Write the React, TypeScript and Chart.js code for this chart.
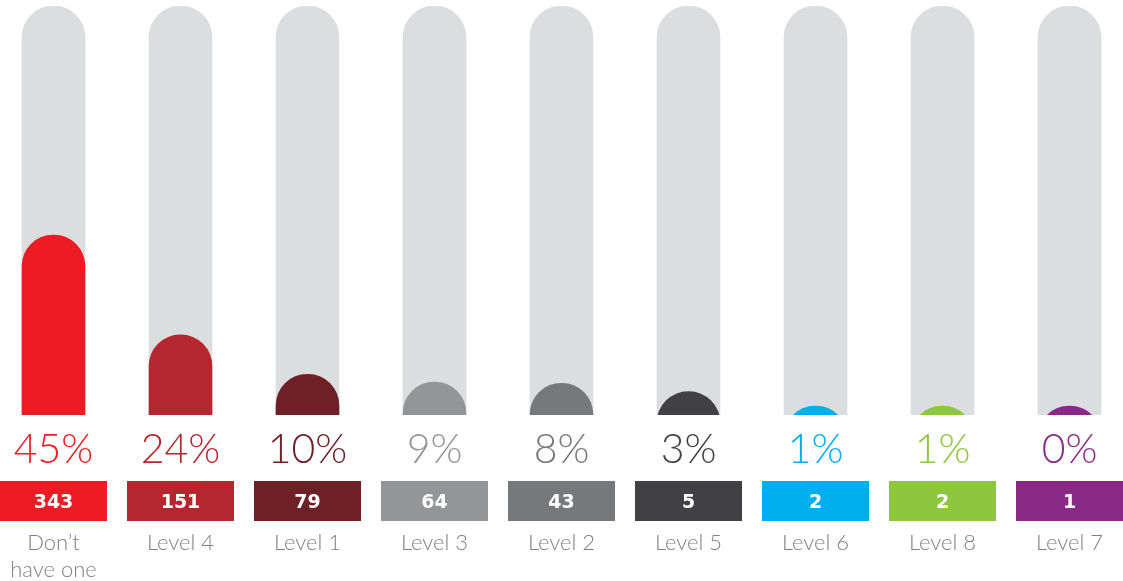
import React, { useEffect, useRef } from "react";
import { Chart, registerables } from "chart.js";

Chart.register(...registerables);

const categories: (string | string[])[] = [
  ["Don’t", "have one"],
  "Level 4",
  "Level 1",
  "Level 3",
  "Level 2",
  "Level 5",
  "Level 6",
  "Level 8",
  "Level 7",
];
const percentLabels = ["45%", "24%", "10%", "9%", "8%", "3%", "1%", "1%", "0%"];
const counts = [343, 151, 79, 64, 43, 5, 2, 2, 1];
// visible bar heights, as % of the track height
const barHeights = [44.0, 19.6, 9.95, 8.07, 7.75, 5.7, 2.2, 2.2, 2.2];
const trackMax = 100;
const barBase = -40;
const colors = [
  "#ED1C24",
  "#B5272E",
  "#6D2126",
  "#939598",
  "#77787B",
  "#414042",
  "#00AEEF",
  "#8DC63F",
  "#8A2A87",
];
const trackColor = "#DCDDDE";
const labelColor = "#7E8083";
const FONT = "Lato, 'Open Sans', 'DejaVu Sans', sans-serif";

const labelsPlugin = {
  id: "columnLabels",
  afterDraw(chart: any) {
    const ctx = chart.ctx;
    const xs = chart.scales.x;
    ctx.save();
    categories.forEach((cat, i) => {
      const x = xs.getPixelForValue(i);
      // percent
      ctx.fillStyle = colors[i];
      ctx.font = `300 41px ${FONT}`;
      ctx.textAlign = "center";
      ctx.textBaseline = "alphabetic";
      ctx.fillText(percentLabels[i], x, 463);
      // count box
      const bw = 107;
      ctx.fillRect(Math.round(x - bw / 2), 481, bw, 40);
      ctx.fillStyle = "#FFFFFF";
      ctx.font = `bold 19px 'DejaVu Sans', sans-serif`;
      ctx.fillText(String(counts[i]), x, 508);
      // label
      ctx.fillStyle = labelColor;
      ctx.font = `300 22px ${FONT}`;
      const lines = Array.isArray(cat) ? cat : [cat];
      lines.forEach((ln, k) => {
        ctx.fillText(ln, x, 550 + k * 27);
      });
    });
    ctx.restore();
  },
};

export default function App() {
  const ref = useRef<HTMLCanvasElement | null>(null);
  useEffect(() => {
    if (!ref.current) return;
    const chart = new Chart(ref.current, {
      type: "bar",
      data: {
        labels: categories.map((c) => (Array.isArray(c) ? c.join(" ") : c)),
        datasets: [
          {
            label: "share",
            data: barHeights.map((v) => [barBase, v]) as any,
            backgroundColor: colors,
            barThickness: 63,
            grouped: false,
            borderSkipped: false,
            borderRadius: 40,
            order: 0,
            clip: 0,
          } as any,
          {
            label: "track",
            data: categories.map(() => [0, trackMax]) as any,
            backgroundColor: trackColor,
            barThickness: 63,
            grouped: false,
            borderSkipped: "start",
            borderRadius: 40,
            order: 1,
            clip: 0,
          } as any,
        ],
      },
      options: {
        responsive: false,
        animation: false,
        devicePixelRatio: 1,
        layout: { padding: { top: 6, bottom: 166, left: 0, right: 0 } },
        plugins: { legend: { display: false }, tooltip: { enabled: false } },
        scales: {
          x: { display: false, grid: { display: false } },
          y: { display: false, min: 0, max: trackMax, grid: { display: false } },
        },
      },
      plugins: [labelsPlugin],
    });
    return () => chart.destroy();
  }, []);
  return (
    <div
      style={{
        position: "fixed",
        left: 0,
        top: 0,
        width: 1123,
        height: 581,
        overflow: "hidden",
        background: "#fff",
      }}
    >
      <canvas
        ref={ref}
        width={1143}
        height={581}
        style={{ position: "absolute", left: -10, top: 0, width: 1143, height: 581 }}
      />
    </div>
  );
}
